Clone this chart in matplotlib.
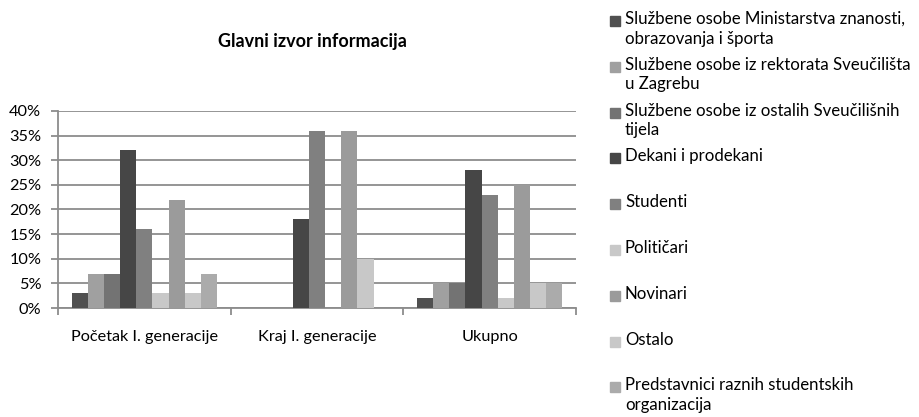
import numpy as np
import matplotlib.pyplot as plt
from matplotlib.patches import Rectangle
from matplotlib.ticker import PercentFormatter

plt.rcParams['font.family'] = ['Lato', 'DejaVu Sans']

groups = ["Početak I. generacije", "Kraj I. generacije", "Ukupno"]
series = [
    "Službene osobe Ministarstva znanosti,\nobrazovanja i športa",
    "Službene osobe iz rektorata Sveučilišta\nu Zagrebu",
    "Službene osobe iz ostalih Sveučilišnih\ntijela",
    "Dekani i prodekani",
    "Studenti",
    "Političari",
    "Novinari",
    "Ostalo",
    "Predstavnici raznih studentskih\norganizacija",
]
values = [
    [3, 0, 2],
    [7, 0, 5],
    [7, 0, 5],
    [32, 18, 28],
    [16, 36, 23],
    [3, 0, 2],
    [22, 36, 25],
    [3, 10, 5],
    [7, 0, 5],
]
colors = ["#505050", "#a0a0a0", "#737373", "#464646", "#808080",
          "#c8c8c8", "#9b9b9b", "#c8c8c8", "#ababab"]

fig = plt.figure(figsize=(9.19, 4.17), dpi=100)
ax = fig.add_axes([58/919, 1-308/417, 518/919, 197/417])

n = len(series)
w = 0.0937
centers = np.arange(len(groups)) + 0.5
for i, (vals, c) in enumerate(zip(values, colors)):
    x = centers - w*n/2 + w*(i + 0.5)
    ax.bar(x, vals, width=w, color=c, zorder=3)

ax.set_xlim(0, len(groups))
ax.set_ylim(0, 40)
ax.set_yticks(range(0, 41, 5))
ax.yaxis.set_major_formatter(PercentFormatter(decimals=0))
ax.grid(axis='y', color='#8c8c8c', linewidth=1.3, zorder=0)
ax.set_xticks(np.arange(len(groups)+1))
ax.set_xticklabels([])
ax.set_xticks(centers, minor=True)
ax.set_xticklabels(groups, minor=True)
ax.tick_params(axis='x', which='major', length=5, width=1.3, color='#8c8c8c', direction='out')
ax.tick_params(axis='x', which='minor', length=0, pad=16, labelsize=11.7)
ax.tick_params(axis='y', length=5, width=1.3, color='#8c8c8c', labelsize=11.7, pad=7)
for s in ['top', 'right']:
    ax.spines[s].set_visible(False)
for s in ['left', 'bottom']:
    ax.spines[s].set_color('#8c8c8c')
    ax.spines[s].set_linewidth(1.3)

fig.text(312/919, 1-41/417, "Glavni izvor informacija", ha='center', va='center',
         fontsize=13, fontweight='bold')

# legend drawn by hand so markers sit on the first line of wrapped labels
top = 21
step = 45.8
for i, (name, c) in enumerate(zip(series, colors)):
    yc = top + i*step
    fig.patches.append(Rectangle((610/919, 1-(yc+5)/417), 10/919, 10/417,
                                 transform=fig.transFigure, color=c))
    fig.text(625/919, 1-(yc-10)/417, name, ha='left', va='top', fontsize=12.1,
             linespacing=1.27)

fig.savefig("out.png", dpi=100)
